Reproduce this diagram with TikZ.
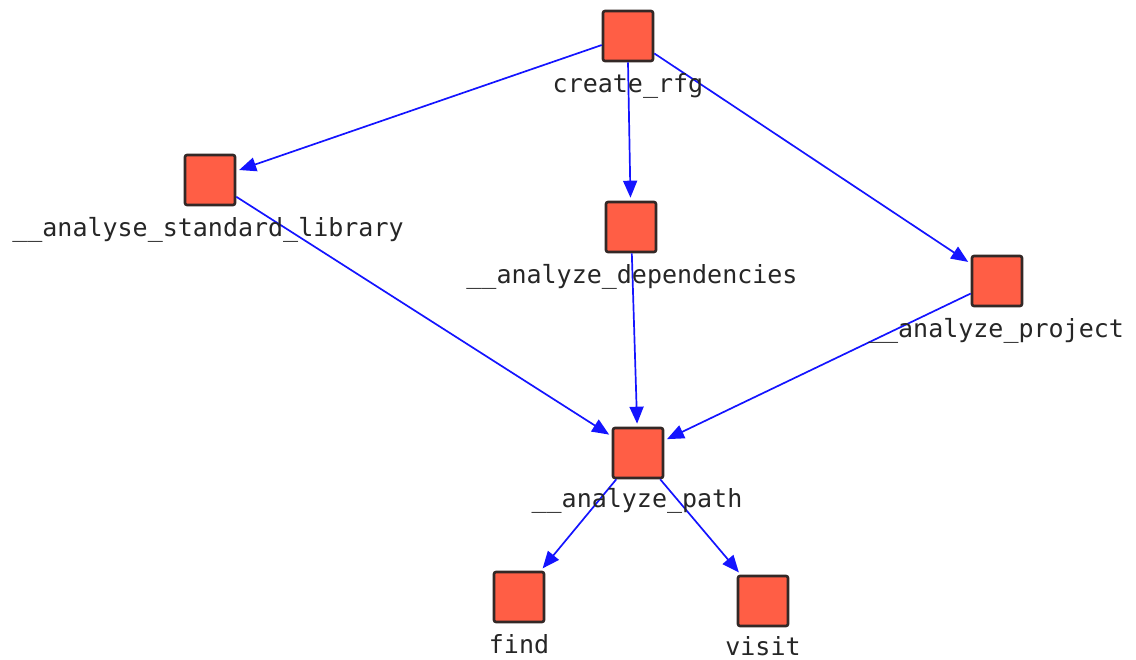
\documentclass[tikz,border=0pt]{standalone}
\usepackage{fontspec}
\setmonofont{DejaVu Sans Mono}
\usetikzlibrary{arrows.meta}
\definecolor{boxfill}{RGB}{255,94,69}
\definecolor{boxline}{RGB}{51,40,38}
\tikzset{
  fn/.style={draw=boxline, fill=boxfill, line width=2.6pt, rounded corners=2pt,
    minimum width=50pt, minimum height=50pt, inner sep=0pt},
  lbl/.style={font=\ttfamily\fontsize{25}{28}\selectfont, inner sep=0pt, text=black!85},
  call/.style={draw={rgb,255:red,20;green,20;blue,255}, line width=1.7pt,
    -{Triangle[length=17pt,width=14pt]}, shorten >=3pt}
}
\begin{document}
\begin{tikzpicture}[x=1pt,y=-1pt]
\useasboundingbox (0,0) rectangle (1136,660);
% functions
\node[fn] (rfg) at (628,36) {};
\node[fn] (std) at (210,180) {};
\node[fn] (dep) at (631,227) {};
\node[fn] (prj) at (997,281) {};
\node[fn] (pth) at (638,453) {};
\node[fn] (fnd) at (519,597) {};
\node[fn] (vst) at (763,601) {};
% calls
\draw[call] (rfg) -- (std);
\draw[call] (rfg.south) -- (dep);
\draw[call] (rfg) -- (prj);
\draw[call] (std) -- (pth);
\draw[call] (dep) -- (pth);
\draw[call] (prj) -- (pth);
\draw[call] (pth) -- (fnd);
\draw[call] (pth) -- (vst);
% names
\node[lbl] (rfgL) at (628,86) {create\_rfg};
\node[lbl] (stdL) at (208,230) {\_\_analyse\_standard\_library};
\node[lbl] (depL) at (632,277) {\_\_analyze\_dependencies};
\node[lbl] (prjL) at (996,331) {\_\_analyze\_project};
\node[lbl] (pthL) at (637,501) {\_\_analyze\_path};
\node[lbl] (fndL) at (519,644) {find};
\node[lbl] (vstL) at (763,646) {visit};
\end{tikzpicture}
\end{document}
